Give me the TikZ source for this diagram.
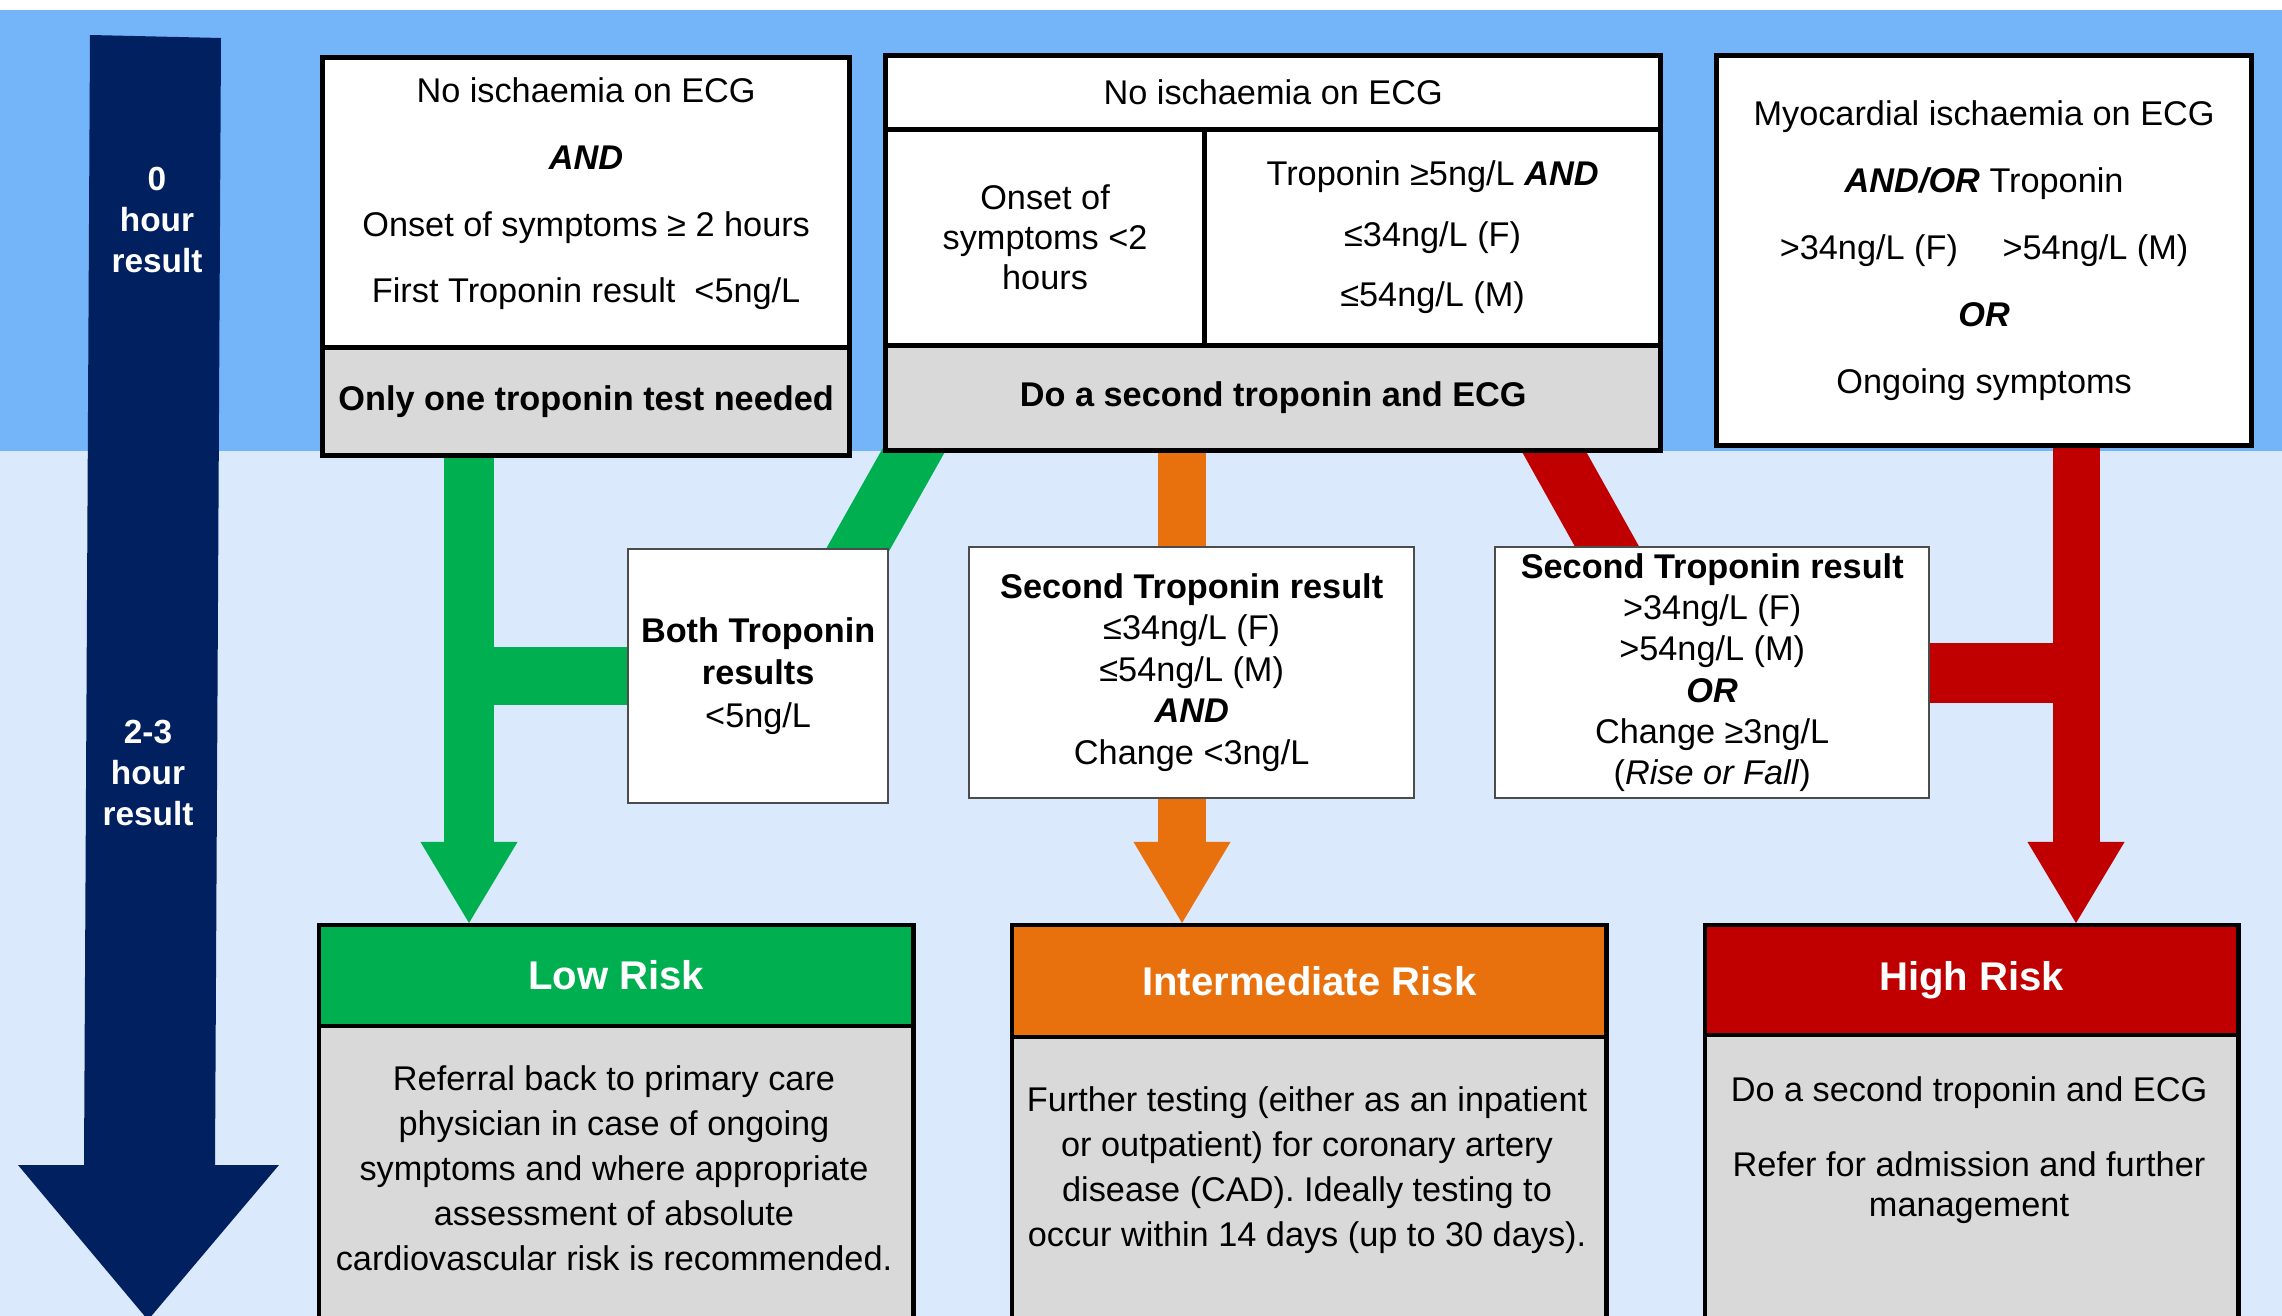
\documentclass[tikz,border=0pt]{standalone}
\usepackage{fontspec}
\setmainfont{Liberation Sans}
\usetikzlibrary{arrows.meta,calc}

\definecolor{topband}{RGB}{116,180,248}
\definecolor{lowband}{RGB}{218,233,252}
\definecolor{navy}{RGB}{0,32,96}
\definecolor{lowc}{RGB}{0,176,80}
\definecolor{midc}{RGB}{232,113,14}
\definecolor{highc}{RGB}{192,0,0}
\definecolor{greybox}{RGB}{217,217,217}

\pgfdeclarelayer{bands}
\pgfdeclarelayer{flows}
\pgfsetlayers{bands,flows,main}

\newcommand{\kw}[1]{\textbf{\textit{#1}}}

\tikzset{
  cond/.style={draw=black, line width=1.4pt, fill=white, anchor=north west,
    inner sep=0pt, align=center, font=\fontsize{9.75}{19}\selectfont},
  todo/.style={cond, fill=greybox, font=\bfseries\fontsize{9.75}{12}\selectfont},
  result/.style={draw=black!70, line width=0.6pt, fill=white, anchor=north west,
    inner sep=0pt, align=center, font=\fontsize{9.75}{11.8}\selectfont},
  riskhead/.style={draw=black, line width=1.2pt, anchor=north west, inner sep=0pt,
    text=white, font=\bfseries\fontsize{11.4}{13}\selectfont},
  riskbody/.style={draw=black, line width=1.2pt, fill=greybox, anchor=north west},
  risktext/.style={align=center, inner sep=0pt, font=\fontsize{9.75}{12.8}\selectfont},
  timetxt/.style={align=center, text=white, font=\bfseries\fontsize{9.5}{11.7}\selectfont},
  flow/.style={line width=#1, line cap=butt},
  tip/.style={-{Triangle[width=0.97cm,length=0.81cm,line width=0pt]}}
}

\begin{document}
\begin{tikzpicture}[x=0.01cm,y=-0.01cm]
\useasboundingbox (0,0) rectangle (2282,1316);
\clip (0,0) rectangle (2282,1316);

\begin{pgfonlayer}{bands}
\fill[white] (0,0) rectangle (2282,1316);
\fill[topband] (0,10) rectangle (2282,451);
\fill[lowband] (0,451) rectangle (2282,1316);
\end{pgfonlayer}

\fill[navy] (90,35) -- (221,38) -- (215,1165) -- (279,1165) -- (148,1320)
  -- (18,1165) -- (84,1165) -- cycle;
\node[timetxt] (t0) at (157,220) {0\\hour\\result};
\node[timetxt] (t23) at (148,773) {2-3\\hour\\result};

\node[cond, minimum width=5.27cm, minimum height=2.90cm, text depth=7pt] (lowcond) at (320,55)
  {No ischaemia on ECG\\\kw{AND}\\Onset of symptoms ≥ 2 hours\\First Troponin result\ \ <5ng/L};
\node[todo, minimum width=5.27cm, minimum height=1.08cm] (onlyone) at (320,345)
  {Only one troponin test needed};

\node[cond, minimum width=7.75cm, minimum height=0.74cm] (nbtop) at (883,53)
  {No ischaemia on ECG};
\node[cond, minimum width=3.19cm, minimum height=2.16cm,
  font=\fontsize{9.75}{11.4}\selectfont] (nbearly) at (883,127)
  {Onset of\\symptoms <2\\hours};
\node[cond, minimum width=4.56cm, minimum height=2.16cm,
  font=\fontsize{9.75}{17.2}\selectfont] (nbtrop) at (1202,127)
  {Troponin ≥5ng/L \kw{AND}\\≤34ng/L (F)\\≤54ng/L (M)};
\node[todo, minimum width=7.75cm, minimum height=1.05cm] (secondtrop) at (883,343)
  {Do a second troponin and ECG};

\node[cond, minimum width=5.35cm, minimum height=3.90cm] (highcond) at (1714,53)
  {Myocardial ischaemia on ECG\\\kw{AND/OR} Troponin\\>34ng/L (F)\hspace{1.3em}>54ng/L (M)\\\kw{OR}\\Ongoing symptoms};

\node[result, minimum width=2.60cm, minimum height=2.54cm,
  font=\fontsize{9.75}{12}\selectfont] (bothlow) at (627,548)
  {\textbf{Both Troponin}\\\textbf{results}\\<5ng/L};
\node[result, minimum width=4.45cm, minimum height=2.51cm] (midsecond) at (968,546)
  {\textbf{Second Troponin result}\\≤34ng/L (F)\\≤54ng/L (M)\\\kw{AND}\\Change <3ng/L};
\node[result, minimum width=4.34cm, minimum height=2.51cm,
  font=\fontsize{9.75}{11.7}\selectfont] (highsecond) at (1494,546)
  {\textbf{Second Troponin result}\\>34ng/L (F)\\>54ng/L (M)\\\kw{OR}\\Change ≥3ng/L\\(\textit{Rise or Fall})};

\node[riskhead, fill=lowc, minimum width=5.94cm, minimum height=1.01cm] (lowrisk) at (317,923) {Low Risk};
\node[riskbody, minimum width=5.94cm, minimum height=2.94cm] (lowbody) at (317,1024) {};
\node[risktext] (lowtxt) at (614,1168)
  {Referral back to primary care\\physician in case of ongoing\\symptoms and where appropriate\\assessment of absolute\\cardiovascular risk is recommended.};

\node[riskhead, fill=midc, minimum width=5.94cm, minimum height=1.12cm] (intrisk) at (1010,923) {Intermediate Risk};
\node[riskbody, minimum width=5.94cm, minimum height=2.83cm] (intbody) at (1010,1035) {};
\node[risktext] (inttxt) at (1307,1170)
  {Further testing (either as an inpatient\\or outpatient) for coronary artery\\disease (CAD). Ideally testing to\\occur within 14 days (up to 30 days).};

\node[riskhead, fill=highc, minimum width=5.33cm, minimum height=1.10cm] (highrisk) at (1703,923) {High Risk};
\node[riskbody, minimum width=5.33cm, minimum height=2.85cm] (highbody) at (1703,1033) {};
\node[risktext, font=\fontsize{9.75}{11.4}\selectfont] (hightxt) at (1969,1150)
  {Do a second troponin and ECG\\[10pt]Refer for admission and further\\management};

\coordinate (gx) at (469,0);
\coordinate (ox) at (1182,0);
\coordinate (rx) at (2076,0);

\begin{pgfonlayer}{flows}
\draw[flow=0.5cm, lowc, tip] (onlyone.south -| gx) -- (lowrisk.north -| gx);
\draw[flow=0.58cm, lowc] (bothlow.west) -- (bothlow.west -| gx);
\draw[flow=0.56cm, lowc] ($(secondtrop.south west)+(41,-21)$) -- ($(bothlow.north east)+(-43,22)$);
\draw[flow=0.48cm, midc] (secondtrop.south -| ox) -- (midsecond.north -| ox);
\draw[flow=0.48cm, midc, tip] (midsecond.south -| ox) -- (intrisk.north -| ox);
\draw[flow=0.56cm, highc] ($(secondtrop.south west)+(660,-21)$) -- ($(highsecond.north west)+(125,22)$);
\draw[flow=0.6cm, highc] (highsecond.east) -- (highsecond.east -| rx);
\draw[flow=0.47cm, highc, tip] (highcond.south -| rx) -- (highrisk.north -| rx);
\end{pgfonlayer}
\end{tikzpicture}
\end{document}
